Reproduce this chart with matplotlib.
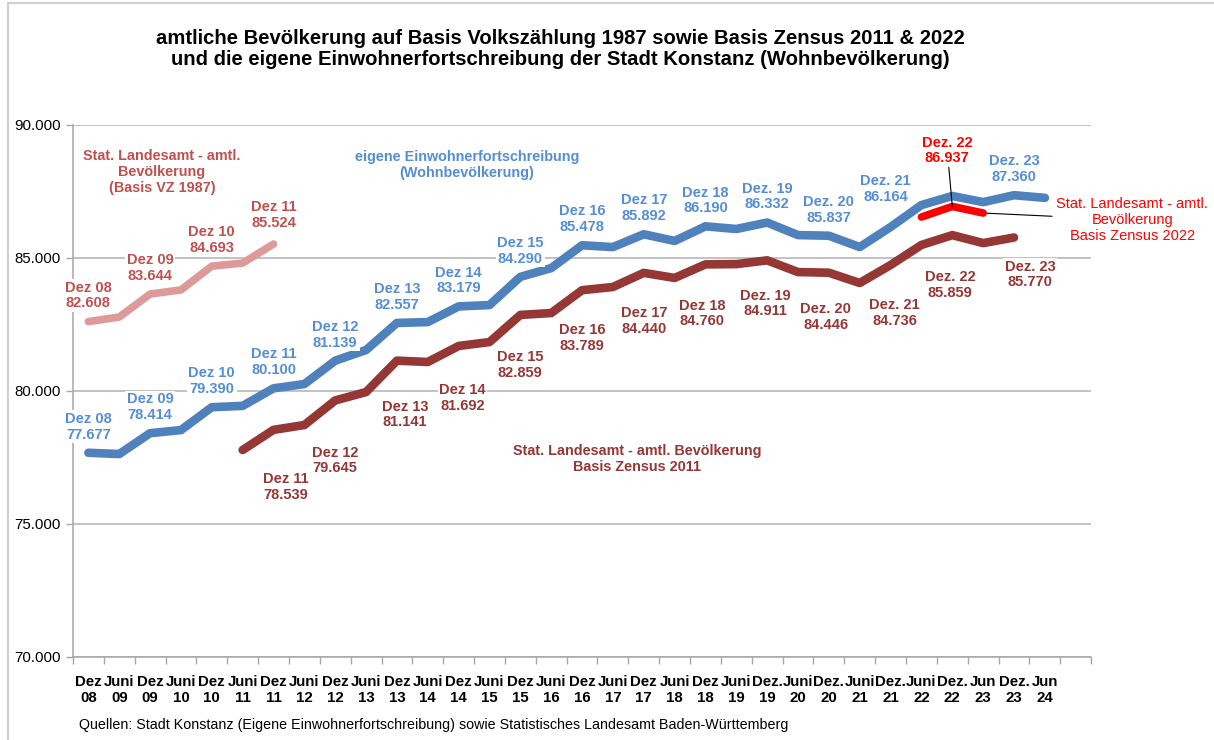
import numpy as np
import matplotlib.pyplot as plt
from matplotlib.ticker import FuncFormatter, FixedLocator
from matplotlib.lines import Line2D

plt.rcParams['font.family'] = ['Liberation Sans', 'DejaVu Sans']

# Kategorien (letzter Platz bleibt leer)
kategorien = ["Dez\n08", "Juni\n09", "Dez\n09", "Juni\n10", "Dez\n10", "Juni\n11",
              "Dez\n11", "Juni\n12", "Dez\n12", "Juni\n13", "Dez\n13", "Juni\n14",
              "Dez\n14", "Juni\n15", "Dez\n15", "Juni\n16", "Dez\n16", "Juni\n17",
              "Dez\n17", "Juni\n18", "Dez\n18", "Juni\n19", "Dez.\n19", "Juni\n20",
              "Dez.\n20", "Juni\n21", "Dez.\n21", "Juni\n22", "Dez.\n22", "Jun\n23",
              "Dez.\n23", "Jun\n24", ""]

nan = np.nan
# eigene Einwohnerfortschreibung (Wohnbevoelkerung)
eigene = [77677, 77630, 78414, 78530, 79390, 79440, 80100, 80260, 81139, 81540,
          82557, 82590, 83179, 83230, 84290, 84620, 85478, 85410, 85892, 85640,
          86190, 86090, 86332, 85860, 85837, 85410, 86164, 86990, 87330, 87100,
          87360, 87260, nan]
# Stat. Landesamt Basis Zensus 2011
zensus2011 = [nan, nan, nan, nan, nan, 77780, 78539, 78720, 79645, 79960,
              81141, 81090, 81692, 81840, 82859, 82930, 83789, 83910, 84440, 84250,
              84760, 84770, 84911, 84470, 84446, 84060, 84736, 85490, 85859, 85560,
              85770, nan, nan]
# Stat. Landesamt Basis VZ 1987
vz1987 = [82608, 82780, 83644, 83800, 84693, 84810, 85524] + [nan] * 26
# Stat. Landesamt Basis Zensus 2022
zensus2022 = [nan] * 27 + [86540, 86937, 86690] + [nan] * 3

# welche Punkte beschriftet werden
lbl_eigene = [0, 2, 4, 6, 8, 10, 12, 14, 16, 18, 20, 22, 24, 26, 30]
lbl_2011 = [6, 8, 10, 12, 14, 16, 18, 20, 22, 24, 26, 28, 30]
lbl_1987 = [0, 2, 4, 6]
lbl_2022 = [28]

# Versatz der Beschriftungen in Pixeln
off_eigene = {26: (-5, 38)}
off_2011 = {6: (12, -57), 8: (0, -60), 10: (8, -54), 12: (4, -52), 14: (0, -50),
            16: (0, -48), 18: (0, -48), 20: (-3, -49), 22: (-2, -43), 24: (-3, -44),
            26: (4, -48), 28: (-2, -50), 30: (16, -37)}
off_1987 = {6: (0, 29)}

c_blau = '#4F81BD'
c_blau_txt = '#558ED5'
c_dunkelrot = '#953735'
c_hellrot = '#DE9A98'
c_hellrot_txt = '#C0504D'
c_rot = '#FF0000'

fig = plt.figure(figsize=(12.14, 7.40), dpi=100)
ax = fig.add_axes([0.0601, 0.1122, 0.8387, 0.7189])

x = np.arange(len(kategorien))
ax.plot(x, vz1987, color=c_hellrot, lw=5.5, solid_capstyle='round', zorder=3)
ax.plot(x, eigene, color=c_blau, lw=6.2, solid_capstyle='round', zorder=3)
ax.plot(x, zensus2011, color=c_dunkelrot, lw=6.2, solid_capstyle='round', zorder=3)
ax.plot(x, zensus2022, color=c_rot, lw=5.5, solid_capstyle='round', zorder=4)

ax.set_xlim(-0.5, len(kategorien) - 0.5)
ax.set_ylim(70000, 90000)
ax.set_yticks(np.arange(70000, 90001, 5000))
ax.yaxis.set_major_formatter(FuncFormatter(lambda v, p: f"{int(v):,}".replace(",", ".")))
ax.set_xticks(x)
ax.set_xticklabels(kategorien, fontsize=10.8, fontweight='bold', linespacing=1.2)
ax.xaxis.set_minor_locator(FixedLocator(np.arange(-0.5, len(kategorien), 1)))
ax.tick_params(axis='x', which='major', length=0, pad=13)
ax.tick_params(axis='x', which='minor', length=5, color='#A6A6A6', width=1)
ax.tick_params(axis='y', length=5, color='#A6A6A6', width=1, labelsize=10.8, pad=4)
ax.grid(axis='y', color='#B8B8B8', lw=1.2, zorder=0)
ax.set_axisbelow(True)
for s in ['top', 'right']:
    ax.spines[s].set_visible(False)
for s in ['left', 'bottom']:
    ax.spines[s].set_color('#A6A6A6')
    ax.spines[s].set_linewidth(1.1)


def fmt(v):
    return f"{int(round(v)):,}".replace(",", ".")


def beschriften(werte, idx, offsets, default, farbe, **kw):
    for i in idx:
        dx, dy = offsets.get(i, default)
        txt = kategorien[i].replace("\n", " ") + "\n" + fmt(werte[i])
        ax.annotate(txt, xy=(i, werte[i]), xytext=(dx, dy), textcoords='offset pixels',
                    ha='center', va='center', color=farbe, fontsize=10.5,
                    fontweight='bold', linespacing=1.15, zorder=5,
                    bbox=dict(boxstyle='square,pad=0.1', fc='white', ec='none'),
                    annotation_clip=False, **kw)


beschriften(vz1987, lbl_1987, off_1987, (0, 26), c_hellrot_txt)
beschriften(eigene, lbl_eigene, off_eigene, (0, 26), c_blau_txt)
beschriften(zensus2011, lbl_2011, off_2011, (0, -48), c_dunkelrot)
beschriften(zensus2022, lbl_2022, {}, (-5, 56), c_rot,
            arrowprops=dict(arrowstyle='-', color='black', lw=0.8, shrinkA=0, shrinkB=0))

# Zensus 2022 Erlaeuterung rechts
ax.annotate("Stat. Landesamt - amtl.\nBevölkerung\nBasis Zensus 2022",
            xy=(29, zensus2022[29]), xytext=(149, -7), textcoords='offset pixels',
            ha='center', va='center', color=c_rot, fontsize=10.5, linespacing=1.15,
            annotation_clip=False,
            arrowprops=dict(arrowstyle='-', color='black', lw=0.8, shrinkA=1, shrinkB=0))

# Reihenbeschriftungen
fig.text(162 / 1214, 1 - 172 / 740, "Stat. Landesamt - amtl.\nBevölkerung\n(Basis VZ 1987)",
         ha='center', va='center', color=c_hellrot_txt, fontsize=10.4, fontweight='bold',
         linespacing=1.2)
fig.text(467 / 1214, 1 - 165 / 740, "eigene Einwohnerfortschreibung\n(Wohnbevölkerung)",
         ha='center', va='center', color=c_blau_txt, fontsize=10.4, fontweight='bold',
         linespacing=1.2)
fig.text(637 / 1214, 1 - 459 / 740, "Stat. Landesamt - amtl. Bevölkerung\nBasis Zensus 2011",
         ha='center', va='center', color=c_dunkelrot, fontsize=10.4, fontweight='bold',
         linespacing=1.2)

fig.text(560 / 1214, 1 - 49 / 740,
         "amtliche Bevölkerung auf Basis Volkszählung 1987 sowie Basis Zensus 2011 & 2022\n"
         "und die eigene Einwohnerfortschreibung der Stadt Konstanz (Wohnbevölkerung)",
         ha='center', va='center', fontsize=14.6, fontweight='bold', linespacing=1.1)
fig.text(79 / 1214, 1 - 725 / 740,
         "Quellen: Stadt Konstanz (Eigene Einwohnerfortschreibung) sowie Statistisches Landesamt Baden-Württemberg",
         ha='left', va='center', fontsize=10.3)

# Rahmen
fig.add_artist(Line2D([8 / 1214, 8 / 1214], [0, 1 - 3 / 740], color='#D0D0D0', lw=1.5))
fig.add_artist(Line2D([8 / 1214, 1], [1 - 3 / 740, 1 - 3 / 740], color='#D0D0D0', lw=1.5))

fig.savefig('out.png', dpi=100)
